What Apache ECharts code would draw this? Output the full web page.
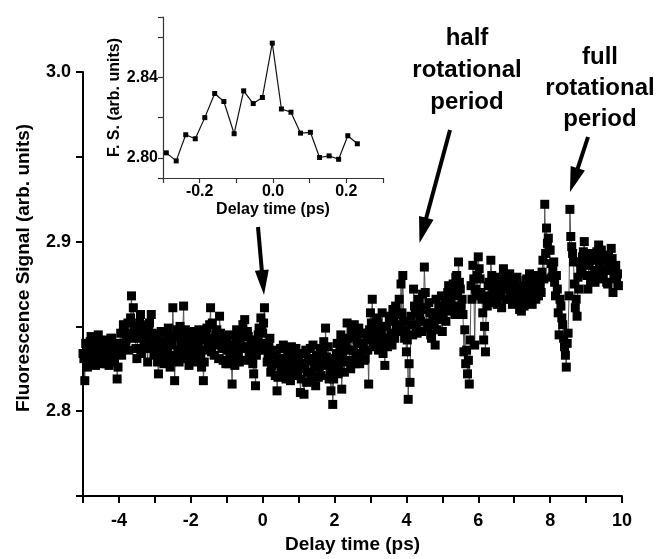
<!DOCTYPE html>
<html>
<head>
<meta charset="utf-8">
<script src="https://cdn.jsdelivr.net/npm/echarts@6/dist/echarts.min.js"></script>
<style>
html,body{margin:0;padding:0;background:#fff;}
#chart{width:672px;height:559px;}
</style>
</head>
<body>
<div id="chart"></div>
<script>
// ---------- main scan: delay grid and fluorescence signal ----------
const delayStart = -5;
const delayStep = 0.05;
// samples on the whole-step grid (-5, -4.95, ...)
const signal = [
  // -5 .. -4.05
  2.834,2.818,2.838,2.829,2.841,2.833,2.836,2.827,2.840,2.835,2.830,2.842,2.837,2.828,2.839,2.833,2.843,2.829,2.836,2.819,
  // -4 .. -3.05
  2.834,2.846,2.838,2.849,2.842,2.852,2.845,2.868,2.861,2.848,2.831,2.843,2.857,2.850,2.838,2.846,2.829,2.852,2.857,2.841,
  // -3 .. -2.05
  2.836,2.845,2.822,2.833,2.840,2.828,2.846,2.835,2.842,2.830,2.861,2.818,2.844,2.836,2.850,2.831,2.862,2.848,2.839,2.827,
  // -2 .. -1.05
  2.842,2.834,2.847,2.829,2.838,2.844,2.826,2.818,2.836,2.849,2.841,2.861,2.852,2.833,2.845,2.839,2.856,2.843,2.830,2.837,
  // -1 .. -0.05
  2.841,2.828,2.835,2.816,2.832,2.843,2.837,2.829,2.846,2.851,2.854,2.838,2.844,2.831,2.840,2.822,2.815,2.836,2.849,2.855,
  // 0 .. 0.95
  2.846,2.861,2.840,2.832,2.843,2.827,2.835,2.821,2.812,2.829,2.837,2.824,2.831,2.819,2.834,2.827,2.838,2.822,2.830,2.825,
  // 1 .. 1.95
  2.833,2.811,2.828,2.810,2.836,2.823,2.830,2.818,2.839,2.826,2.832,2.820,2.837,2.827,2.841,2.849,2.829,2.819,2.812,2.804,
  // 2 .. 2.95
  2.826,2.834,2.822,2.838,2.813,2.829,2.841,2.852,2.836,2.825,2.844,2.851,2.833,2.840,2.828,2.846,2.837,2.831,2.842,2.816,
  // 3 .. 3.95
  2.858,2.866,2.845,2.838,2.852,2.841,2.848,2.834,2.827,2.850,2.843,2.856,2.839,2.853,2.862,2.847,2.866,2.875,2.880,2.843,
  // 4 .. 4.95
  2.835,2.807,2.817,2.851,2.872,2.858,2.846,2.865,2.853,2.869,2.885,2.861,2.849,2.858,2.843,2.855,2.839,2.848,2.862,2.856,
  // 5 .. 5.95
  2.847,2.860,2.853,2.870,2.871,2.862,2.875,2.857,2.880,2.888,2.872,2.866,2.835,2.828,2.822,2.816,2.874,2.886,2.839,2.868,
  // 6 .. 6.95
  2.891,2.878,2.866,2.842,2.835,2.862,2.876,2.889,2.870,2.864,2.879,2.869,2.874,2.861,2.884,2.872,2.866,2.878,2.870,2.863,
  // 7 .. 7.95
  2.876,2.868,2.873,2.860,2.859,2.871,2.865,2.878,2.869,2.874,2.863,2.870,2.866,2.879,2.876,2.870,2.889,2.922,2.908,2.902,
  // 8 .. 8.95
  2.895,2.879,2.888,2.868,2.872,2.845,2.862,2.851,2.838,2.826,2.846,2.919,2.897,2.888,2.861,2.856,2.872,2.884,2.891,2.900,
  // 9 .. 9.9
  2.886,2.872,2.893,2.880,2.889,2.876,2.894,2.898,2.884,2.878,2.891,2.883,2.875,2.888,2.896,2.870,2.882,2.878,2.874
];
// samples on the half-step grid (-4.975, -4.925, ...)
const signalHalf = [
  // -4.975 .. -4.025
  2.831,2.840,2.826,2.836,2.844,2.830,2.838,2.833,2.845,2.828,2.837,2.832,2.841,2.835,2.827,2.843,2.838,2.831,2.840,2.826,
  // -3.975 .. -3.025
  2.840,2.833,2.851,2.839,2.846,2.836,2.855,2.843,2.850,2.837,2.845,2.852,2.834,2.848,2.843,2.837,2.851,2.840,2.846,2.833,
  // -2.975 .. -2.025
  2.842,2.829,2.838,2.847,2.832,2.841,2.836,2.849,2.826,2.839,2.844,2.833,2.848,2.829,2.840,2.845,2.835,2.842,2.831,2.846,
  // -1.975 .. -1.025
  2.837,2.844,2.831,2.840,2.848,2.833,2.842,2.829,2.845,2.838,2.851,2.835,2.843,2.840,2.848,2.831,2.846,2.837,2.842,2.828,
  // -0.975 .. -0.025
  2.836,2.845,2.830,2.839,2.827,2.848,2.833,2.841,2.837,2.844,2.830,2.847,2.835,2.842,2.828,2.838,2.833,2.845,2.840,2.848,
  // 0.025 .. 0.975
  2.852,2.836,2.829,2.838,2.823,2.833,2.828,2.836,2.820,2.831,2.826,2.839,2.822,2.829,2.834,2.818,2.832,2.826,2.837,2.821,
  // 1.025 .. 1.975
  2.828,2.819,2.834,2.825,2.817,2.831,2.837,2.823,2.829,2.815,2.833,2.826,2.821,2.835,2.828,2.832,2.838,2.824,2.830,2.819,
  // 2.025 .. 2.975
  2.831,2.840,2.827,2.845,2.834,2.823,2.838,2.843,2.830,2.847,2.836,2.828,2.842,2.849,2.834,2.840,2.830,2.846,2.836,2.848,
  // 3.025 .. 3.975
  2.852,2.840,2.847,2.855,2.836,2.845,2.858,2.842,2.850,2.838,2.854,2.846,2.860,2.843,2.851,2.857,2.849,2.858,2.853,2.848,
  // 4.025 .. 4.975
  2.842,2.828,2.856,2.845,2.862,2.850,2.866,2.855,2.847,2.860,2.870,2.852,2.864,2.845,2.858,2.851,2.866,2.854,2.861,2.868,
  // 5.025 .. 5.975
  2.856,2.865,2.859,2.874,2.866,2.870,2.862,2.879,2.868,2.876,2.862,2.857,2.848,2.836,2.830,2.842,2.866,2.878,2.872,2.880,
  // 6.025 .. 6.975
  2.884,2.870,2.858,2.850,2.868,2.874,2.866,2.880,2.876,2.871,2.863,2.877,2.868,2.873,2.879,2.866,2.874,2.881,2.867,2.875,
  // 7.025 .. 7.975
  2.871,2.879,2.864,2.867,2.874,2.862,2.877,2.871,2.881,2.866,2.876,2.872,2.880,2.868,2.873,2.882,2.878,2.893,2.899,2.895,
  // 8.025 .. 8.975
  2.887,2.883,2.876,2.880,2.858,2.866,2.855,2.843,2.833,2.840,2.868,2.903,2.893,2.875,2.866,2.879,2.888,2.881,2.894,2.887,
  // 9.025 .. 9.875
  2.880,2.888,2.877,2.893,2.883,2.890,2.879,2.887,2.895,2.881,2.889,2.876,2.892,2.884,2.890,2.879,2.886,2.881
];

// ---------- inset: zoom around zero delay ----------
const insetDelay = [-0.291,-0.264,-0.238,-0.212,-0.186,-0.159,-0.134,-0.106,-0.080,-0.054,-0.029,-0.002,0.023,0.049,0.075,0.102,0.127,0.153,0.179,0.204,0.230];
const insetSignal = [2.8025,2.7985,2.8115,2.8095,2.8200,2.8320,2.8280,2.8120,2.8333,2.8270,2.8300,2.8570,2.8243,2.8227,2.8123,2.8127,2.8002,2.8010,2.7993,2.8110,2.8070];

// ---------- tick labels ----------
const mainXLabels = ['-4','-2','0','2','4','6','8','10'];
const mainYLabels = ['2.8','2.9','3.0'];
const insetXLabels = ['-0.2','0.0','0.2'];
const insetYLabels = ['2.80','2.84'];

const mainData = [];
signal.forEach((v, i) => {
  mainData.push([+(delayStart + i * delayStep).toFixed(3), v]);
  if (i < signalHalf.length) mainData.push([+(delayStart + (i + 0.5) * delayStep).toFixed(3), signalHalf[i]]);
});
const insetData = insetDelay.map((t, i) => [t, insetSignal[i]]);

const FONT = '"Liberation Sans", Arial, Helvetica, sans-serif';

function fmtMainX(v){ const s = String(Math.round(v)); return (Math.abs(v - Math.round(v)) < 1e-6 && mainXLabels.includes(s)) ? s : ''; }
function fmtMainY(v){ const s = (Math.round(v*100)/100).toFixed(1); return (Math.abs(v - parseFloat(s)) < 1e-6 && mainYLabels.includes(s)) ? s : ''; }
function fmtInsetX(v){ const s = (Math.round(v*10)/10).toFixed(1).replace('-0.0','0.0'); return insetXLabels.includes(s) ? s : ''; }
function fmtInsetY(v){ const s = (Math.round(v*100)/100).toFixed(2); return (Math.abs(v - parseFloat(s)) < 1e-6 && insetYLabels.includes(s)) ? s : ''; }

function arrow(x1, y1, x2, y2, headLen, headHalf, w){
  const dx = x2 - x1, dy = y2 - y1, L = Math.hypot(dx, dy);
  const ux = dx / L, uy = dy / L, px = -uy, py = ux;
  const bx = x2 - ux * headLen, by = y2 - uy * headLen;
  return [
    { type: 'line', shape: { x1: x1, y1: y1, x2: bx + ux * 2, y2: by + uy * 2 }, style: { stroke: '#000', lineWidth: w }, z: 100 },
    { type: 'polygon', shape: { points: [[x2, y2], [bx + px * headHalf, by + py * headHalf], [bx - px * headHalf, by - py * headHalf]] }, style: { fill: '#000' }, z: 100 }
  ];
}

const chart = echarts.init(document.getElementById('chart'), null, { renderer: 'canvas' });

const axisCommonMain = {
  axisLine: { show: true, onZero: false, lineStyle: { color: '#000', width: 2 } },
  axisTick: { show: true, inside: false, length: 7, lineStyle: { color: '#000', width: 2 } },
  splitLine: { show: false },
  nameTextStyle: { fontFamily: FONT, fontWeight: 'bold', fontSize: 19, color: '#000' }
};
const axisCommonInset = {
  axisLine: { show: true, onZero: false, lineStyle: { color: '#333', width: 1.2 } },
  axisTick: { show: true, inside: false, length: 5, lineStyle: { color: '#333', width: 1.2 } },
  splitLine: { show: false },
  nameTextStyle: { fontFamily: FONT, fontWeight: 'bold', fontSize: 16, color: '#000' }
};

chart.setOption({
  animation: false,
  backgroundColor: '#fff',
  grid: [
    { left: 83, right: 50, top: 72, bottom: 60, containLabel: false },
    { left: 163, top: 17, width: 220, height: 161, containLabel: false }
  ],
  xAxis: [
    Object.assign({}, axisCommonMain, {
      gridIndex: 0, type: 'value', min: -5, max: 10, interval: 1,
      name: 'Delay time (ps)', nameLocation: 'middle', nameGap: 39,
      axisLabel: { formatter: fmtMainX, fontFamily: FONT, fontWeight: 'bold', fontSize: 18, color: '#000', margin: 16 }
    }),
    Object.assign({}, axisCommonInset, {
      gridIndex: 1, type: 'value', min: -0.3, max: 0.3, interval: 0.1,
      name: 'Delay time (ps)', nameLocation: 'middle', nameGap: 24,
      axisLabel: { formatter: fmtInsetX, fontFamily: FONT, fontWeight: 'bold', fontSize: 16, color: '#000', margin: 6 }
    })
  ],
  yAxis: [
    Object.assign({}, axisCommonMain, {
      gridIndex: 0, type: 'value', min: 2.75, max: 3.0, interval: 0.05,
      axisLabel: { formatter: fmtMainY, fontFamily: FONT, fontWeight: 'bold', fontSize: 18, color: '#000', margin: 12 }
    }),
    Object.assign({}, axisCommonInset, {
      gridIndex: 1, type: 'value', min: 2.79, max: 2.87, splitNumber: 4,
      name: 'F. S. (arb. units)', nameLocation: 'middle', nameGap: 38,
      axisLabel: { formatter: fmtInsetY, fontFamily: FONT, fontWeight: 'bold', fontSize: 16, color: '#000', margin: 5 }
    })
  ],
  series: [
    {
      type: 'line', xAxisIndex: 0, yAxisIndex: 0, data: mainData,
      symbol: 'rect', symbolSize: 9, showSymbol: true, showAllSymbol: true,
      lineStyle: { color: '#555', width: 1 },
      itemStyle: { color: '#000' }, clip: false, z: 3
    },
    {
      type: 'line', xAxisIndex: 1, yAxisIndex: 1, data: insetData,
      symbol: 'rect', symbolSize: 5, showSymbol: true, showAllSymbol: true,
      lineStyle: { color: '#111', width: 1.2 },
      itemStyle: { color: '#000' }, z: 4
    }
  ],
  graphic: [].concat(
    arrow(258, 227, 264, 295, 25, 7, 4),
    arrow(450, 130, 419.5, 243, 26, 7.5, 4),
    arrow(588, 137, 570, 192, 25, 7.5, 4),
    [
      { type: 'text', x: 24, y: 268, rotation: Math.PI / 2, z: 100,
        style: { text: 'Fluorescence Signal (arb. units)', fontFamily: FONT, fontWeight: 'bold', fontSize: 19, align: 'center', verticalAlign: 'middle', fill: '#000' } },
      { type: 'text', x: 467, y: 22, z: 100,
        style: { text: 'half\nrotational\nperiod', fontFamily: FONT, fontWeight: 'bold', fontSize: 24, lineHeight: 32, align: 'center', verticalAlign: 'top', fill: '#000' } },
      { type: 'text', x: 600, y: 42, z: 100,
        style: { text: 'full\nrotational\nperiod', fontFamily: FONT, fontWeight: 'bold', fontSize: 24, lineHeight: 31, align: 'center', verticalAlign: 'top', fill: '#000' } }
    ]
  )
});
</script>
</body>
</html>
